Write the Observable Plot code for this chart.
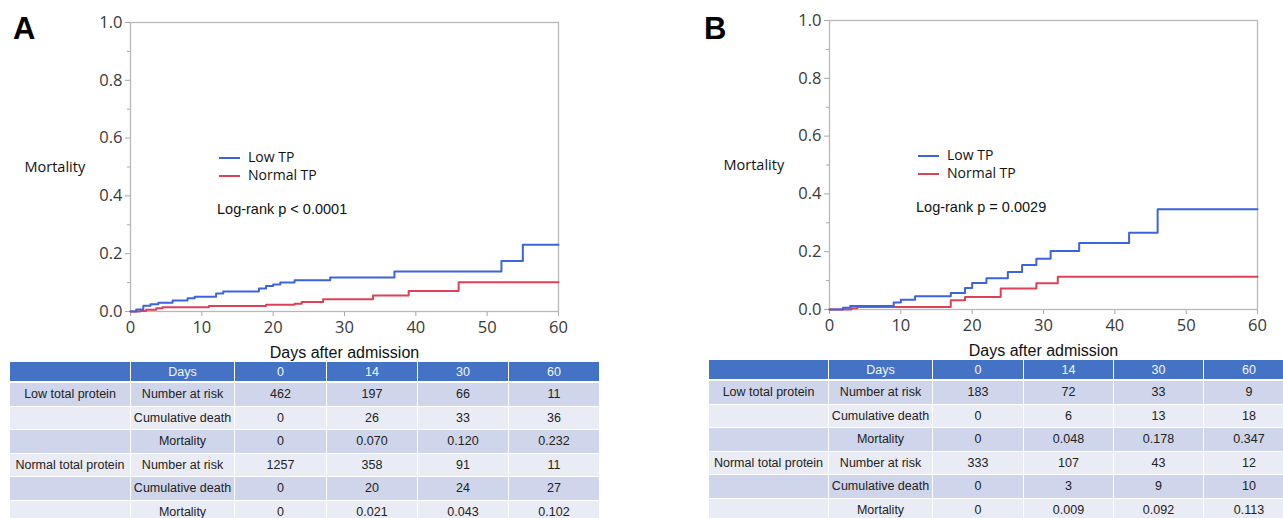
<!DOCTYPE html>
<html>
<head>
<meta charset="utf-8">
<script src="https://cdn.jsdelivr.net/npm/d3@7"></script>
<script src="https://cdn.jsdelivr.net/npm/@observablehq/plot@0.6"></script>
<style>
  html, body { margin: 0; padding: 0; background: #fff; }
  #page { position: relative; width: 1283px; height: 518px; overflow: hidden; background: #fff; }
  .panel { position: absolute; top: 0; }
  .letter { position: absolute; font-family: "Liberation Sans", Arial, sans-serif; font-weight: bold; font-size: 31px; color: #000; }
  .legend { position: absolute; font-family: "Open Sans", sans-serif; font-size: 14px; color: #111; }
  .legend .item { position: absolute; white-space: nowrap; line-height: 18px; }
  .legend .sw { position: absolute; width: 21px; height: 0; border-top: 2px solid; }
  .logrank { position: absolute; white-space: nowrap; font-family: "Liberation Sans", Arial, sans-serif; font-size: 14.5px; color: #111; }
  table.risk { position: absolute; border-collapse: separate; border-spacing: 1px; table-layout: fixed;
    font-family: "Liberation Sans", Arial, sans-serif; font-size: 12.5px; color: #222; }
  table.risk td { text-align: center; padding: 0; overflow: hidden; white-space: nowrap; }
  table.risk tr.head td { background: #4472C4; color: #f4f6fb; height: 19px; }
  table.risk tr.dark td { background: #CFD5EA; height: 22.5px; }
  table.risk tr.light td { background: #E9EBF5; height: 22.5px; }
  table.risk tr.head + tr td { border-top: 1px solid #fff; }
</style>
</head>
<body>
<div id="page"></div>
<script>
// ---------------- data ----------------
const xTicks = [0, 10, 20, 30, 40, 50, 60];
const yTicks = [0, 0.2, 0.4, 0.6, 0.8, 1.0];
const yMinor = [0.1, 0.3, 0.5, 0.7, 0.9];

// Panel A : Kaplan–Meier cumulative mortality
const aLowDays  = [0, 0.8, 1.8, 2.8, 3.9, 5.9, 8, 9, 12, 13, 18, 19, 20, 21, 23, 28, 37, 52, 55, 60];
const aLowMort  = [0, 0.007, 0.020, 0.025, 0.030, 0.038, 0.046, 0.051, 0.062, 0.069, 0.080, 0.088, 0.093, 0.100, 0.108, 0.118, 0.138, 0.175, 0.231, 0.231];
const aNormDays = [0, 1.3, 2.2, 3.6, 4.5, 11, 19, 23, 24, 27, 34, 39, 46, 60];
const aNormMort = [0, 0.002, 0.006, 0.011, 0.015, 0.019, 0.023, 0.027, 0.033, 0.042, 0.055, 0.071, 0.101, 0.101];

// Panel B
const bLowDays  = [0, 1.9, 2.9, 9, 10, 12, 17, 19, 20, 22, 25, 27, 29, 31, 35, 42, 46, 60];
const bLowMort  = [0, 0.006, 0.012, 0.024, 0.034, 0.046, 0.057, 0.074, 0.092, 0.108, 0.130, 0.154, 0.176, 0.202, 0.230, 0.266, 0.347, 0.347];
const bNormDays = [0, 3.1, 3.9, 17, 19, 24, 29, 32, 60];
const bNormMort = [0, 0.004, 0.009, 0.032, 0.043, 0.073, 0.091, 0.113, 0.113];

// Tables
const tableDays = ["0", "14", "30", "60"];
const rowLabels = ["Number at risk", "Cumulative death", "Mortality"];
const groupLabels = ["Low total protein", "Normal total protein"];
const aLowRisk = ["462", "197", "66", "11"];
const aLowDeath = ["0", "26", "33", "36"];
const aLowMortT = ["0", "0.070", "0.120", "0.232"];
const aNormRisk = ["1257", "358", "91", "11"];
const aNormDeath = ["0", "20", "24", "27"];
const aNormMortT = ["0", "0.021", "0.043", "0.102"];
const bLowRisk = ["183", "72", "33", "9"];
const bLowDeath = ["0", "6", "13", "18"];
const bLowMortT = ["0", "0.048", "0.178", "0.347"];
const bNormRisk = ["333", "107", "43", "12"];
const bNormDeath = ["0", "3", "9", "10"];
const bNormMortT = ["0", "0.009", "0.092", "0.113"];

const seriesNames = ["Low TP", "Normal TP"];
const pValues = ["Log-rank p < 0.0001", "Log-rank p = 0.0029"];

// ---------------- drawing ----------------
const BLUE = "#3b64dd", RED = "#dd4155";
const page = document.getElementById("page");
const H = 362;

function zipSeries(days, mort) { return days.map((d, i) => ({day: d, mort: mort[i]})); }

function makePanel(opt) {
  const low = zipSeries(opt.lowDays, opt.lowMort);
  const norm = zipSeries(opt.normDays, opt.normMort);
  const chart = Plot.plot({
    width: opt.width, height: H,
    marginLeft: 130, marginRight: opt.width - 558, marginTop: opt.top, marginBottom: H - opt.bottom,
    x: {domain: [0, 60]},
    y: {domain: [0, 1]},
    style: {fontFamily: "'Open Sans', sans-serif", fontSize: "16.5px", color: "#3a3a3a", background: "transparent", overflow: "visible"},
    marks: [
      Plot.axisY({ticks: yMinor, tickSize: 3, tickFormat: () => "", label: null, stroke: "#a8a8a8"}),
      Plot.axisY({ticks: yTicks, tickSize: 5, tickPadding: 3, tickFormat: d => d.toFixed(1), label: null, stroke: "#a8a8a8", fill: "#3a3a3a", fontSize: 16.5}),
      Plot.axisX({ticks: xTicks, tickSize: 5, tickPadding: 5, label: null, stroke: "#a8a8a8", fill: "#3a3a3a", fontSize: 16.5}),
      Plot.frame({stroke: "#b8b8b8", strokeWidth: 1.3}),
      Plot.line(norm, {x: "day", y: "mort", curve: "step-after", stroke: RED, strokeWidth: 2}),
      Plot.line(low, {x: "day", y: "mort", curve: "step-after", stroke: BLUE, strokeWidth: 2}),
      Plot.text(["Mortality"], {frameAnchor: "left", dx: -106, textAnchor: "start", fontSize: 14.5, fill: "#111"}),
      Plot.text(["Days after admission"], {frameAnchor: "bottom", dy: 46, fontFamily: "'Liberation Sans', Arial, sans-serif", fontSize: 16, fill: "#111"})
    ]
  });
  const wrap = document.createElement("div");
  wrap.className = "panel";
  wrap.style.left = opt.left + "px";
  wrap.style.width = opt.width + "px";
  wrap.style.height = H + "px";
  wrap.appendChild(chart);

  // legend (inside the frame)
  const lg = document.createElement("div");
  lg.className = "legend";
  lg.style.left = "0px"; lg.style.top = "0px";
  const fx = 130, fy = opt.top;
  [[seriesNames[0], BLUE, 136], [seriesNames[1], RED, 154]].forEach(([name, col, dy]) => {
    const sw = document.createElement("div");
    sw.className = "sw";
    sw.style.borderTopColor = col;
    sw.style.left = (fx + 89) + "px";
    sw.style.top = (fy + dy - 1) + "px";
    lg.appendChild(sw);
    const it = document.createElement("div");
    it.className = "item";
    it.textContent = name;
    it.style.left = (fx + 118) + "px";
    it.style.top = (fy + dy - 10) + "px";
    lg.appendChild(it);
  });
  wrap.appendChild(lg);
  const lr = document.createElement("div");
  lr.className = "logrank";
  lr.textContent = opt.p;
  lr.style.left = (fx + 87) + "px";
  lr.style.top = (fy + 179) + "px";
  wrap.appendChild(lr);

  const letter = document.createElement("div");
  letter.className = "letter";
  letter.textContent = opt.letter;
  letter.style.left = opt.letterX + "px";
  letter.style.top = "11px";
  wrap.appendChild(letter);

  page.appendChild(wrap);
}

function makeTable(opt) {
  const t = document.createElement("table");
  t.className = "risk";
  t.style.left = opt.left + "px";
  t.style.top = opt.top + "px";
  const total = opt.widths.reduce((s, w) => s + w, 0) + opt.widths.length + 1;
  t.style.width = total + "px";
  t.style.minWidth = total + "px";
  const cg = document.createElement("colgroup");
  opt.widths.forEach(w => { const c = document.createElement("col"); c.style.width = w + "px"; cg.appendChild(c); });
  t.appendChild(cg);
  const addRow = (cls, cells) => {
    const tr = document.createElement("tr");
    tr.className = cls;
    cells.forEach(v => { const td = document.createElement("td"); td.textContent = v; tr.appendChild(td); });
    t.appendChild(tr);
  };
  addRow("head", ["", "Days", ...tableDays]);
  addRow("dark", [groupLabels[0], rowLabels[0], ...opt.lowRisk]);
  addRow("light", ["", rowLabels[1], ...opt.lowDeath]);
  addRow("dark", ["", rowLabels[2], ...opt.lowMort]);
  addRow("light", [groupLabels[1], rowLabels[0], ...opt.normRisk]);
  addRow("dark", ["", rowLabels[1], ...opt.normDeath]);
  addRow("light", ["", rowLabels[2], ...opt.normMort]);
  page.appendChild(t);
}

makePanel({left: 0, width: 640, top: 22, bottom: 311, lowDays: aLowDays, lowMort: aLowMort, normDays: aNormDays, normMort: aNormMort, p: pValues[0], letter: "A", letterX: 13});
makePanel({left: 699, width: 584, top: 20, bottom: 309, lowDays: bLowDays, lowMort: bLowMort, normDays: bNormDays, normMort: bNormMort, p: pValues[1], letter: "B", letterX: 5});

makeTable({left: 9, top: 361, widths: [120, 103, 91, 90, 90, 90], lowRisk: aLowRisk, lowDeath: aLowDeath, lowMort: aLowMortT, normRisk: aNormRisk, normDeath: aNormDeath, normMort: aNormMortT});
makeTable({left: 708, top: 359, widths: [119, 103, 90, 89, 89, 90], lowRisk: bLowRisk, lowDeath: bLowDeath, lowMort: bLowMortT, normRisk: bNormRisk, normDeath: bNormDeath, normMort: bNormMortT});
</script>
</body>
</html>
